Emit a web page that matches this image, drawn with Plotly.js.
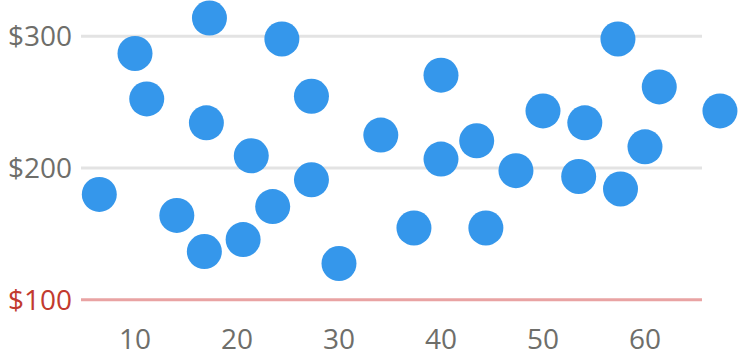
<!DOCTYPE html>
<html>
<head>
<meta charset="utf-8">
<script src="https://cdn.plot.ly/plotly-3.0.1.min.js"></script>
<style>html,body{margin:0;padding:0;background:#fff;}#chart{width:738px;height:357px;}</style>
</head>
<body>
<div id="chart"></div>
<script>
const xValues = [6.5, 10, 11.15, 14.1, 16.8, 17.0, 17.3, 20.6, 21.4, 23.5, 24.4, 27.3, 27.3, 30, 34.1, 37.35, 40, 40, 43.5, 44.4, 47.35, 50, 53.5, 54.1, 57.35, 57.6, 60, 61.4, 67.35];
const yValues = [180, 287, 252.5, 164, 136.6, 234.3, 313.9, 145.7, 209.3, 170.7, 298, 254.5, 191.1, 127.5, 225, 154.5, 270.5, 206.8, 220.7, 154.5, 198, 243.4, 193.6, 234.3, 298, 184.1, 216.1, 261.6, 243.4];
const yTickVals = [100, 200, 300];
const yTickText = ['<span style="color:#c23a2e">$100</span>', '$200', '$300'];
const xTickVals = [10, 20, 30, 40, 50, 60];
const gridY = [200, 300];
const xMin = 4.706, xGridEnd = 65.588, xMax = 69.12;

const trace = {
  type: 'scatter',
  mode: 'markers',
  x: xValues,
  y: yValues,
  cliponaxis: false,
  marker: {size: 35, color: '#3597eb', line: {width: 0}},
  hoverinfo: 'x+y'
};

const shapes = gridY.map(v => ({
  type: 'line', xref: 'x', yref: 'y', x0: xMin, x1: xGridEnd, y0: v, y1: v,
  line: {color: '#e3e3e3', width: 3}, layer: 'below'
}));
shapes.push({
  type: 'line', xref: 'x', yref: 'y', x0: xMin, x1: xGridEnd, y0: 100, y1: 100,
  line: {color: '#e9a3a3', width: 3}, layer: 'below'
});

const layout = {
  width: 738,
  height: 357,
  margin: {l: 81, r: 0, t: 9.6, b: 51.7, pad: 0},
  paper_bgcolor: '#ffffff',
  plot_bgcolor: '#ffffff',
  showlegend: false,
  font: {family: '"Open Sans", sans-serif', size: 28, color: '#6e6e6a'},
  xaxis: {
    range: [xMin, xMax],
    tickvals: xTickVals,
    showgrid: false,
    zeroline: false,
    showline: false,
    ticks: '',
    ticklabelstandoff: 15
  },
  yaxis: {
    range: [96, 320],
    tickvals: yTickVals,
    ticktext: yTickText,
    showgrid: false,
    zeroline: false,
    showline: false,
    ticks: '',
    ticklabelstandoff: 8
  },
  shapes: shapes
};

Plotly.newPlot('chart', [trace], layout, {displayModeBar: false, staticPlot: true});
</script>
</body>
</html>
